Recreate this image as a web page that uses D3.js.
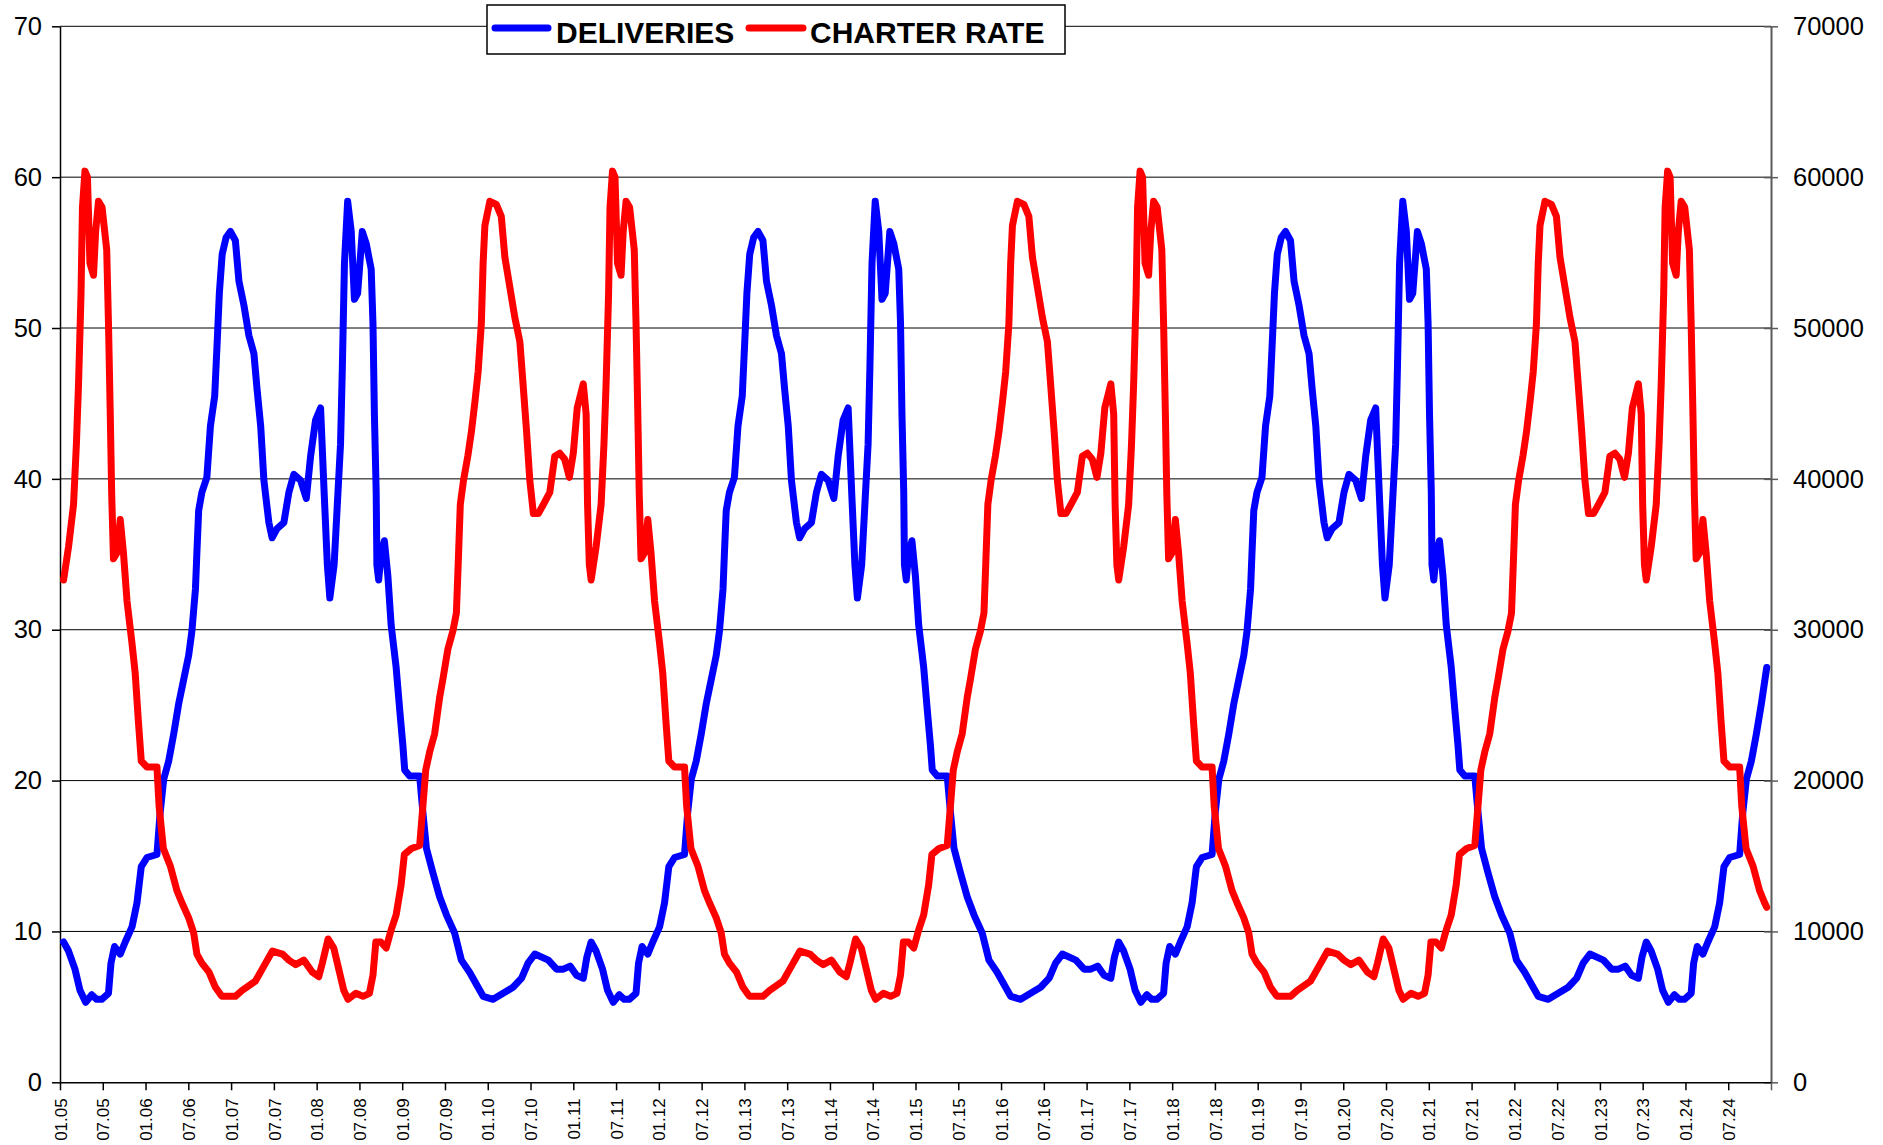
<!DOCTYPE html>
<html>
<head>
<meta charset="utf-8">
<script src="https://cdn.jsdelivr.net/npm/d3@7"></script>
<style>
  body { margin: 0; background: #fff; }
  svg { display: block; font-family: "Liberation Sans", Arial, sans-serif; }
</style>
</head>
<body>
<svg id="chart" width="1883" height="1145"></svg>
<script>
// x is months since January 2005 (0 = 01.05, 240 = 01.25)
const tickMonths = d3.range(0, 241, 6);
const tickLabels = [
  "01.05","07.05","01.06","07.06","01.07","07.07","01.08","07.08","01.09","07.09",
  "01.10","07.10","01.11","07.11","01.12","07.12","01.13","07.13","01.14","07.14",
  "01.15","07.15","01.16","07.16","01.17","07.17","01.18","07.18","01.19","07.19",
  "01.20","07.20","01.21","07.21","01.22","07.22","01.23","07.23","01.24","07.24",""
];
const leftTicks = [0, 10, 20, 30, 40, 50, 60, 70];
const rightTicks = [0, 10000, 20000, 30000, 40000, 50000, 60000, 70000];
const seriesNames = ["DELIVERIES", "CHARTER RATE"];
const seriesColors = ["#0000ff", "#ff0000"];

// DELIVERIES (left axis): [month, value]
const deliveries = [
  [0.5,9.3],[1.2,8.7],[2.1,7.5],[2.8,6.1],[3.6,5.3],[4.45,5.8],[5.15,5.5],[5.85,5.5],[6.8,5.9],[7.15,7.9],
  [7.65,9.0],[8.45,8.5],[9.15,9.3],[10.1,10.3],[10.8,11.9],[11.4,14.3],[12.2,14.9],[13.6,15.1],[14.05,17.9],[14.55,20.1],
  [15.25,21.3],[15.95,23.1],[16.65,25.1],[17.35,26.7],[18.05,28.3],[18.5,29.9],[19.0,32.7],[19.2,35.1],[19.45,37.9],[19.9,39.1],
  [20.6,40.1],[21.1,43.5],[21.7,45.5],[22.05,49.1],[22.35,52.3],[22.75,54.9],[23.3,56.0],[23.9,56.4],[24.6,55.8],[25.1,53.1],
  [25.8,51.5],[26.5,49.5],[27.2,48.3],[27.65,45.9],[28.15,43.5],[28.6,39.9],[29.3,37.1],[29.75,36.1],[30.45,36.7],[31.4,37.1],
  [32.1,39.1],[32.8,40.3],[33.75,39.9],[34.55,38.7],[35.15,41.5],[35.85,43.9],[36.55,44.7],[37.05,39.1],[37.5,34.3],[37.85,32.1],
  [38.45,34.3],[38.9,38.3],[39.35,42.3],[39.6,47.3],[39.9,54.3],[40.35,58.4],[40.85,56.4],[41.3,51.9],[41.75,52.3],[42.4,56.4],
  [42.95,55.6],[43.65,53.9],[43.9,50.3],[44.1,44.3],[44.35,39.1],[44.45,34.3],[44.7,33.3],[45.05,35.1],[45.5,35.9],[46.0,33.5],
  [46.45,30.3],[47.15,27.5],[47.65,24.7],[48.1,22.3],[48.35,20.7],[49.05,20.3],[50.45,20.3],[50.9,17.9],[51.4,15.5],[52.3,13.9],
  [53.25,12.3],[54.2,11.1],[55.35,9.9],[56.3,8.1],[57.45,7.3],[58.4,6.5],[59.35,5.7],[60.75,5.5],[62.15,5.9],[63.55,6.3],
  [64.75,6.9],[65.65,7.9],[66.6,8.5],[68.5,8.1],[69.65,7.5],[70.6,7.5],[71.55,7.7],[72.45,7.1],[73.4,6.9],[73.9,8.3],
  [74.5,9.3],[75.2,8.7],[76.1,7.5],[76.8,6.1],[77.6,5.3],[78.45,5.8],[79.15,5.5],[79.85,5.5],[80.8,5.9],[81.15,7.9],
  [81.65,9.0],[82.45,8.5],[83.15,9.3],[84.1,10.3],[84.8,11.9],[85.4,14.3],[86.2,14.9],[87.6,15.1],[88.05,17.9],[88.55,20.1],
  [89.25,21.3],[89.95,23.1],[90.65,25.1],[91.35,26.7],[92.05,28.3],[92.5,29.9],[93.0,32.7],[93.2,35.1],[93.45,37.9],[93.9,39.1],
  [94.6,40.1],[95.1,43.5],[95.7,45.5],[96.05,49.1],[96.35,52.3],[96.75,54.9],[97.3,56.0],[97.9,56.4],[98.6,55.8],[99.1,53.1],
  [99.8,51.5],[100.5,49.5],[101.2,48.3],[101.65,45.9],[102.15,43.5],[102.6,39.9],[103.3,37.1],[103.75,36.1],[104.45,36.7],[105.4,37.1],
  [106.1,39.1],[106.8,40.3],[107.75,39.9],[108.55,38.7],[109.15,41.5],[109.85,43.9],[110.55,44.7],[111.05,39.1],[111.5,34.3],[111.85,32.1],
  [112.45,34.3],[112.9,38.3],[113.35,42.3],[113.6,47.3],[113.9,54.3],[114.35,58.4],[114.85,56.4],[115.3,51.9],[115.75,52.3],[116.4,56.4],
  [116.95,55.6],[117.65,53.9],[117.9,50.3],[118.1,44.3],[118.35,39.1],[118.45,34.3],[118.7,33.3],[119.05,35.1],[119.5,35.9],[120.0,33.5],
  [120.45,30.3],[121.15,27.5],[121.65,24.7],[122.1,22.3],[122.35,20.7],[123.05,20.3],[124.45,20.3],[124.9,17.9],[125.4,15.5],[126.3,13.9],
  [127.25,12.3],[128.2,11.1],[129.35,9.9],[130.3,8.1],[131.45,7.3],[132.4,6.5],[133.35,5.7],[134.75,5.5],[136.15,5.9],[137.55,6.3],
  [138.75,6.9],[139.65,7.9],[140.6,8.5],[142.5,8.1],[143.65,7.5],[144.6,7.5],[145.55,7.7],[146.45,7.1],[147.4,6.9],[147.9,8.3],
  [148.5,9.3],[149.2,8.7],[150.1,7.5],[150.8,6.1],[151.6,5.3],[152.45,5.8],[153.15,5.5],[153.85,5.5],[154.8,5.9],[155.15,7.9],
  [155.65,9.0],[156.45,8.5],[157.15,9.3],[158.1,10.3],[158.8,11.9],[159.4,14.3],[160.2,14.9],[161.6,15.1],[162.05,17.9],[162.55,20.1],
  [163.25,21.3],[163.95,23.1],[164.65,25.1],[165.35,26.7],[166.05,28.3],[166.5,29.9],[167.0,32.7],[167.2,35.1],[167.45,37.9],[167.9,39.1],
  [168.6,40.1],[169.1,43.5],[169.7,45.5],[170.05,49.1],[170.35,52.3],[170.75,54.9],[171.3,56.0],[171.9,56.4],[172.6,55.8],[173.1,53.1],
  [173.8,51.5],[174.5,49.5],[175.2,48.3],[175.65,45.9],[176.15,43.5],[176.6,39.9],[177.3,37.1],[177.75,36.1],[178.45,36.7],[179.4,37.1],
  [180.1,39.1],[180.8,40.3],[181.75,39.9],[182.55,38.7],[183.15,41.5],[183.85,43.9],[184.55,44.7],[185.05,39.1],[185.5,34.3],[185.85,32.1],
  [186.45,34.3],[186.9,38.3],[187.35,42.3],[187.6,47.3],[187.9,54.3],[188.35,58.4],[188.85,56.4],[189.3,51.9],[189.75,52.3],[190.4,56.4],
  [190.95,55.6],[191.65,53.9],[191.9,50.3],[192.1,44.3],[192.35,39.1],[192.45,34.3],[192.7,33.3],[193.05,35.1],[193.5,35.9],[194.0,33.5],
  [194.45,30.3],[195.15,27.5],[195.65,24.7],[196.1,22.3],[196.35,20.7],[197.05,20.3],[198.45,20.3],[198.9,17.9],[199.4,15.5],[200.3,13.9],
  [201.25,12.3],[202.2,11.1],[203.35,9.9],[204.3,8.1],[205.45,7.3],[206.4,6.5],[207.35,5.7],[208.75,5.5],[210.15,5.9],[211.55,6.3],
  [212.75,6.9],[213.65,7.9],[214.6,8.5],[216.5,8.1],[217.65,7.5],[218.6,7.5],[219.55,7.7],[220.45,7.1],[221.4,6.9],[221.9,8.3],
  [222.5,9.3],[223.2,8.7],[224.1,7.5],[224.8,6.1],[225.6,5.3],[226.45,5.8],[227.15,5.5],[227.85,5.5],[228.8,5.9],[229.15,7.9],
  [229.65,9.0],[230.45,8.5],[231.15,9.3],[232.1,10.3],[232.8,11.9],[233.4,14.3],[234.2,14.9],[235.6,15.1],[236.05,17.9],[236.55,20.1],
  [237.25,21.3],[237.95,23.1],[238.65,25.1],[239.4,27.5]
];

// CHARTER RATE (right axis): [month, value]
const charterRate = [
  [0.5,33300],[1.2,35500],[1.9,38300],[2.3,42300],[2.6,46300],[2.95,52300],[3.15,58000],[3.5,60400],[3.85,60000],[4.2,54300],
  [4.7,53500],[5.0,56400],[5.4,58400],[5.9,58000],[6.55,55200],[6.8,50300],[7.05,44300],[7.25,39000],[7.5,34700],[8.0,35100],
  [8.45,37300],[8.9,35100],[9.4,31900],[10.1,29100],[10.55,27100],[11.0,23900],[11.4,21300],[12.2,20900],[13.6,20900],[13.9,18300],
  [14.5,15500],[15.5,14300],[16.4,12700],[17.1,11900],[18.05,10900],[18.75,9900],[19.2,8500],[19.9,7900],[20.9,7300],[21.8,6300],
  [22.7,5700],[24.6,5700],[25.55,6100],[27.4,6700],[28.6,7700],[29.8,8700],[31.2,8500],[32.1,8100],[33.05,7800],[34.2,8100],
  [35.4,7300],[36.3,7000],[36.8,7900],[37.6,9500],[38.4,8900],[39.1,7500],[39.8,6100],[40.4,5500],[41.5,5900],[42.5,5700],
  [43.4,5900],[43.9,7100],[44.3,9300],[45.0,9300],[45.75,8900],[46.45,10100],[47.15,11100],[47.85,13100],[48.3,15100],[49.3,15500],
  [50.45,15700],[50.9,18300],[51.3,20700],[51.85,21900],[52.55,23100],[53.25,25500],[53.7,26700],[54.4,28700],[55.1,29900],[55.6,31100],
  [55.85,34300],[56.15,38300],[56.6,39900],[57.2,41500],[57.7,43100],[58.2,45100],[58.65,47100],[59.1,50300],[59.35,54300],[59.6,56800],
  [60.3,58400],[61.2,58200],[61.9,57400],[62.4,54700],[63.1,52700],[63.8,50700],[64.5,49100],[64.95,46300],[65.45,43100],[65.9,39900],
  [66.4,37700],[67.1,37700],[67.8,38300],[68.7,39100],[69.4,41500],[70.1,41700],[70.8,41300],[71.45,40100],[72.0,41700],[72.55,44700],
  [73.4,46300],[73.8,44300],[74.0,38300],[74.25,34300],
  [74.5,33300],[75.2,35500],[75.9,38300],[76.3,42300],[76.6,46300],[76.95,52300],[77.15,58000],[77.5,60400],[77.85,60000],[78.2,54300],
  [78.7,53500],[79.0,56400],[79.4,58400],[79.9,58000],[80.55,55200],[80.8,50300],[81.05,44300],[81.25,39000],[81.5,34700],[82.0,35100],
  [82.45,37300],[82.9,35100],[83.4,31900],[84.1,29100],[84.55,27100],[85.0,23900],[85.4,21300],[86.2,20900],[87.6,20900],[87.9,18300],
  [88.5,15500],[89.5,14300],[90.4,12700],[91.1,11900],[92.05,10900],[92.75,9900],[93.2,8500],[93.9,7900],[94.9,7300],[95.8,6300],
  [96.7,5700],[98.6,5700],[99.55,6100],[101.4,6700],[102.6,7700],[103.8,8700],[105.2,8500],[106.1,8100],[107.05,7800],[108.2,8100],
  [109.4,7300],[110.3,7000],[110.8,7900],[111.6,9500],[112.4,8900],[113.1,7500],[113.8,6100],[114.4,5500],[115.5,5900],[116.5,5700],
  [117.4,5900],[117.9,7100],[118.3,9300],[119.0,9300],[119.75,8900],[120.45,10100],[121.15,11100],[121.85,13100],[122.3,15100],[123.3,15500],
  [124.45,15700],[124.9,18300],[125.3,20700],[125.85,21900],[126.55,23100],[127.25,25500],[127.7,26700],[128.4,28700],[129.1,29900],[129.6,31100],
  [129.85,34300],[130.15,38300],[130.6,39900],[131.2,41500],[131.7,43100],[132.2,45100],[132.65,47100],[133.1,50300],[133.35,54300],[133.6,56800],
  [134.3,58400],[135.2,58200],[135.9,57400],[136.4,54700],[137.1,52700],[137.8,50700],[138.5,49100],[138.95,46300],[139.45,43100],[139.9,39900],
  [140.4,37700],[141.1,37700],[141.8,38300],[142.7,39100],[143.4,41500],[144.1,41700],[144.8,41300],[145.45,40100],[146.0,41700],[146.55,44700],
  [147.4,46300],[147.8,44300],[148.0,38300],[148.25,34300],
  [148.5,33300],[149.2,35500],[149.9,38300],[150.3,42300],[150.6,46300],[150.95,52300],[151.15,58000],[151.5,60400],[151.85,60000],[152.2,54300],
  [152.7,53500],[153.0,56400],[153.4,58400],[153.9,58000],[154.55,55200],[154.8,50300],[155.05,44300],[155.25,39000],[155.5,34700],[156.0,35100],
  [156.45,37300],[156.9,35100],[157.4,31900],[158.1,29100],[158.55,27100],[159.0,23900],[159.4,21300],[160.2,20900],[161.6,20900],[161.9,18300],
  [162.5,15500],[163.5,14300],[164.4,12700],[165.1,11900],[166.05,10900],[166.75,9900],[167.2,8500],[167.9,7900],[168.9,7300],[169.8,6300],
  [170.7,5700],[172.6,5700],[173.55,6100],[175.4,6700],[176.6,7700],[177.8,8700],[179.2,8500],[180.1,8100],[181.05,7800],[182.2,8100],
  [183.4,7300],[184.3,7000],[184.8,7900],[185.6,9500],[186.4,8900],[187.1,7500],[187.8,6100],[188.4,5500],[189.5,5900],[190.5,5700],
  [191.4,5900],[191.9,7100],[192.3,9300],[193.0,9300],[193.75,8900],[194.45,10100],[195.15,11100],[195.85,13100],[196.3,15100],[197.3,15500],
  [198.45,15700],[198.9,18300],[199.3,20700],[199.85,21900],[200.55,23100],[201.25,25500],[201.7,26700],[202.4,28700],[203.1,29900],[203.6,31100],
  [203.85,34300],[204.15,38300],[204.6,39900],[205.2,41500],[205.7,43100],[206.2,45100],[206.65,47100],[207.1,50300],[207.35,54300],[207.6,56800],
  [208.3,58400],[209.2,58200],[209.9,57400],[210.4,54700],[211.1,52700],[211.8,50700],[212.5,49100],[212.95,46300],[213.45,43100],[213.9,39900],
  [214.4,37700],[215.1,37700],[215.8,38300],[216.7,39100],[217.4,41500],[218.1,41700],[218.8,41300],[219.45,40100],[220.0,41700],[220.55,44700],
  [221.4,46300],[221.8,44300],[222.0,38300],[222.25,34300],
  [222.5,33300],[223.2,35500],[223.9,38300],[224.3,42300],[224.6,46300],[224.95,52300],[225.15,58000],[225.5,60400],[225.85,60000],[226.2,54300],
  [226.7,53500],[227.0,56400],[227.4,58400],[227.9,58000],[228.55,55200],[228.8,50300],[229.05,44300],[229.25,39000],[229.5,34700],[230.0,35100],
  [230.45,37300],[230.9,35100],[231.4,31900],[232.1,29100],[232.55,27100],[233.0,23900],[233.4,21300],[234.2,20900],[235.6,20900],[235.9,18300],
  [236.5,15500],[237.5,14300],[238.4,12700],[239.1,11900],[239.4,11600]
];

const svg = d3.select("#chart");
const plotLeft = 60, plotRight = 1771, plotTop = 26.3, plotBottom = 1082.3;

const x = d3.scaleLinear().domain([0, 240]).range([plotLeft, plotRight]);
const yLeft = d3.scaleLinear().domain([0, 70]).range([plotBottom, plotTop]);
const yRight = d3.scaleLinear().domain([0, 70000]).range([plotBottom, plotTop]);

// horizontal grid lines
svg.append("g")
  .selectAll("line")
  .data(leftTicks.filter(d => d > 0))
  .join("line")
  .attr("x1", plotLeft).attr("x2", plotRight)
  .attr("y1", d => yLeft(d)).attr("y2", d => yLeft(d))
  .attr("stroke", "#000").attr("stroke-width", 1);

// left axis
const gLeft = svg.append("g")
  .attr("transform", `translate(${plotLeft},0)`)
  .call(d3.axisLeft(yLeft).tickValues(leftTicks).tickSize(8).tickSizeOuter(0).tickPadding(10));
gLeft.select(".domain").attr("stroke", "#000").attr("stroke-width", 1.5);
gLeft.selectAll(".tick line").attr("stroke", "#000").attr("stroke-width", 1.5);
gLeft.selectAll(".tick text").attr("font-size", 25.5).attr("fill", "#000")
  .attr("font-family", "'Liberation Sans', Arial, sans-serif");

// right axis
const gRight = svg.append("g")
  .attr("transform", `translate(${plotRight},0)`)
  .call(d3.axisRight(yRight).tickValues(rightTicks).tickSize(7).tickSizeOuter(0).tickPadding(15).tickFormat(d3.format("d")));
gRight.select(".domain").attr("stroke", "#5a5a5a").attr("stroke-width", 2);
gRight.selectAll(".tick line").attr("x1", -7).attr("stroke", "#5a5a5a").attr("stroke-width", 1.5);
gRight.selectAll(".tick text").attr("font-size", 25.5).attr("fill", "#000")
  .attr("font-family", "'Liberation Sans', Arial, sans-serif");

// bottom axis
const gBottom = svg.append("g")
  .attr("transform", `translate(0,${plotBottom})`)
  .call(d3.axisBottom(x).tickValues(tickMonths).tickSize(8).tickSizeOuter(0)
    .tickFormat((d, i) => tickLabels[i]));
gBottom.select(".domain").attr("stroke", "#000").attr("stroke-width", 1.5);
gBottom.selectAll(".tick line").attr("stroke", (d, i) => i === tickMonths.length - 1 ? "#5a5a5a" : "#000")
  .attr("stroke-width", 1.5);
gBottom.selectAll(".tick text")
  .attr("font-size", 17).attr("fill", "#000")
  .attr("font-family", "'Liberation Sans', Arial, sans-serif")
  .attr("transform", "rotate(-90)")
  .attr("x", -16).attr("y", 0).attr("dy", "0.36em")
  .attr("text-anchor", "end");

// series lines
const lineLeft = d3.line().x(d => x(d[0])).y(d => yLeft(d[1]));
const lineRight = d3.line().x(d => x(d[0])).y(d => yRight(d[1]));

svg.append("path")
  .datum(deliveries)
  .attr("d", lineLeft)
  .attr("fill", "none")
  .attr("stroke", seriesColors[0])
  .attr("stroke-width", 7)
  .attr("stroke-linejoin", "round")
  .attr("stroke-linecap", "round");

svg.append("path")
  .datum(charterRate)
  .attr("d", lineRight)
  .attr("fill", "none")
  .attr("stroke", seriesColors[1])
  .attr("stroke-width", 7)
  .attr("stroke-linejoin", "round")
  .attr("stroke-linecap", "round");

// legend
const legend = svg.append("g");
legend.append("rect")
  .attr("x", 487).attr("y", 5).attr("width", 578).attr("height", 49)
  .attr("fill", "#fff").attr("stroke", "#000").attr("stroke-width", 1.5);

const legendItems = [
  { x1: 495, x2: 548, tx: 556 },
  { x1: 749, x2: 803, tx: 810 }
];
legendItems.forEach((it, i) => {
  legend.append("line")
    .attr("x1", it.x1).attr("x2", it.x2).attr("y1", 28).attr("y2", 28)
    .attr("stroke", seriesColors[i]).attr("stroke-width", 7).attr("stroke-linecap", "round");
  legend.append("text")
    .attr("x", it.tx).attr("y", 43)
    .attr("font-size", 30).attr("font-weight", "bold").attr("fill", "#000")
    .text(seriesNames[i]);
});
</script>
</body>
</html>
